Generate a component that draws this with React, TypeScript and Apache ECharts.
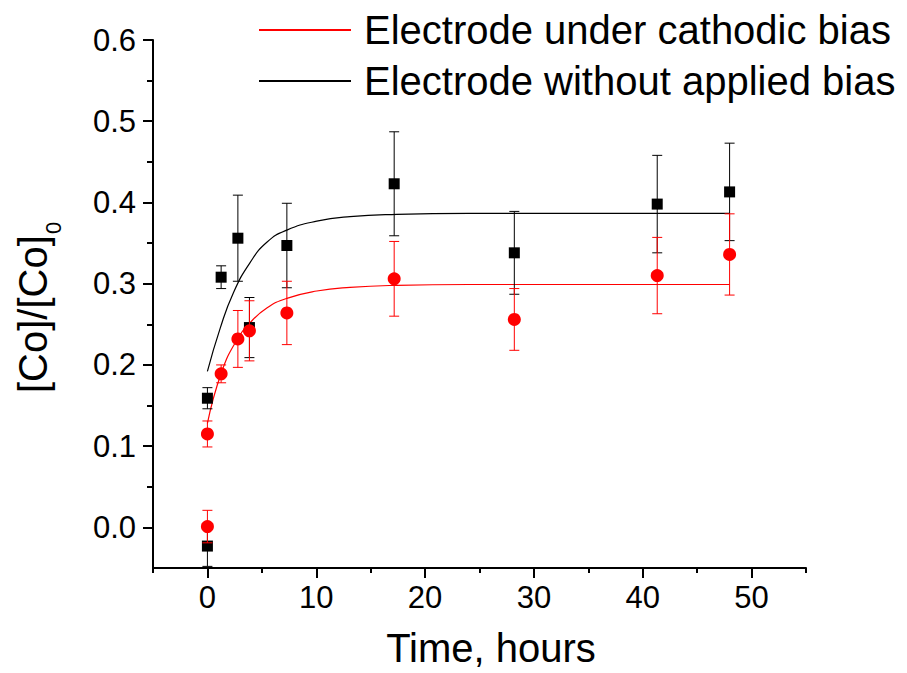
import React, { useEffect, useRef } from "react";
import * as echarts from "echarts";

// ---- data ----
const times = [0, 0, 1.26, 2.8, 3.86, 7.3, 17.16, 28.2, 41.33, 47.98];
const biasValues = [0.001, 0.115, 0.189, 0.232, 0.242, 0.264, 0.306, 0.256, 0.31, 0.336];
const biasErrors = [0.02, 0.016, 0.011, 0.035, 0.037, 0.039, 0.046, 0.038, 0.047, 0.05];
const noBiasValues = [-0.023, 0.159, 0.308, 0.356, 0.246, 0.347, 0.423, 0.338, 0.398, 0.413];
const noBiasErrors = [0.025, 0.013, 0.014, 0.053, 0.037, 0.052, 0.064, 0.051, 0.06, 0.06];

const biasFitX = [0, 1.3, 2.76, 3.92, 5.46, 7.3, 10.05, 13.1, 17.4, 24, 48];
const biasFitY = [0.128, 0.191, 0.232, 0.252, 0.27, 0.282, 0.291, 0.2955, 0.298, 0.299, 0.299];
const noBiasFitX = [0, 1.17, 2.39, 3.92, 5.46, 7.3, 10.05, 13.1, 17.4, 24, 48];
const noBiasFitY = [0.192, 0.245, 0.289, 0.326, 0.351, 0.366, 0.377, 0.3826, 0.3854, 0.3866, 0.3866];

const xTicks = [0, 10, 20, 30, 40, 50];
const xMinorTicks = [-5, 5, 15, 25, 35, 45, 55];
const yTicks = [0, 0.1, 0.2, 0.3, 0.4, 0.5, 0.6];
const yMinorTicks = [0.05, 0.15, 0.25, 0.35, 0.45, 0.55];

const seriesNames = ["Electrode under cathodic bias", "Electrode without applied bias"];
const xTitle = "Time, hours";
const yTitleMain = "[Co]/[Co]";
const yTitleSub = "0";

const FONT = "'Liberation Sans', Arial, sans-serif";

function errorBarSeries(name: string, vals: number[], errs: number[], color: string) {
  return {
    type: "custom",
    name,
    xAxisIndex: 0,
    yAxisIndex: 0,
    data: times.map((t, i) => [t, vals[i], errs[i]]),
    encode: { x: 0, y: 1 },
    silent: true,
    renderItem: (params: any, api: any) => {
      const x = api.value(0);
      const y = api.value(1);
      const e = api.value(2);
      const top = api.coord([x, y + e]);
      const bot = api.coord([x, y - e]);
      const hw = 5;
      const st = { stroke: color, lineWidth: 1 };
      return {
        type: "group",
        children: [
          { type: "line", shape: { x1: top[0], y1: top[1], x2: bot[0], y2: bot[1] }, style: st },
          { type: "line", shape: { x1: top[0] - hw, y1: top[1], x2: top[0] + hw, y2: top[1] }, style: st },
          { type: "line", shape: { x1: bot[0] - hw, y1: bot[1], x2: bot[0] + hw, y2: bot[1] }, style: st },
        ],
      };
    },
  };
}

export default function App() {
  const ref = useRef<HTMLDivElement>(null);
  useEffect(() => {
    if (!ref.current) return;
    const chart = echarts.init(ref.current, null, { renderer: "svg" });
    const axisLineStyle = { color: "#000", width: 2 };
    const option: any = {
      animation: false,
      backgroundColor: "#fff",
      textStyle: { fontFamily: FONT },
      grid: { left: 153, top: 40, width: 653, height: 531, containLabel: false },
      legend: {
        data: seriesNames,
        orient: "vertical",
        left: 259,
        top: 10,
        padding: 0,
        icon: "rect",
        itemWidth: 92,
        itemHeight: 2,
        itemGap: 11,
        textStyle: { fontFamily: FONT, fontSize: 40, color: "#000", lineHeight: 40, padding: [0, 0, 0, 8] },
      },
      xAxis: [
        {
          type: "value",
          min: -5,
          max: 55,
          position: "bottom",
          name: xTitle,
          nameLocation: "middle",
          nameGap: 60,
          nameTextStyle: { fontFamily: FONT, fontSize: 40, color: "#000", padding: [0, 0, 0, 23] },
          axisLine: { show: true, onZero: false, lineStyle: axisLineStyle },
          axisTick: { show: true, length: 10, lineStyle: axisLineStyle, customValues: xTicks },
          axisLabel: { fontFamily: FONT, fontSize: 31, color: "#000", margin: 14, customValues: xTicks },
          splitLine: { show: false },
        },
        {
          type: "value",
          min: -5,
          max: 55,
          position: "bottom",
          axisLine: { show: false, onZero: false },
          axisTick: { show: true, length: 5, lineStyle: axisLineStyle, customValues: xMinorTicks },
          axisLabel: { show: false },
          splitLine: { show: false },
        },
      ],
      yAxis: [
        {
          type: "value",
          min: -0.05,
          max: 0.6,
          position: "left",
          axisLine: { show: true, onZero: false, lineStyle: axisLineStyle },
          axisTick: { show: true, length: 10, lineStyle: axisLineStyle, customValues: yTicks },
          axisLabel: {
            fontFamily: FONT,
            fontSize: 31,
            color: "#000",
            margin: 17,
            customValues: yTicks,
            formatter: (v: number) => v.toFixed(1),
          },
          splitLine: { show: false },
        },
        {
          type: "value",
          min: -0.05,
          max: 0.6,
          position: "left",
          axisLine: { show: false, onZero: false },
          axisTick: { show: true, length: 6, lineStyle: axisLineStyle, customValues: yMinorTicks },
          axisLabel: { show: false },
          splitLine: { show: false },
        },
      ],
      graphic: [
        {
          type: "group",
          x: 33,
          y: 393,
          rotation: Math.PI / 2,
          children: [
            {
              type: "text",
              x: 0,
              y: 0,
              style: { text: yTitleMain, fontSize: 40, fontFamily: FONT, fill: "#000", align: "left", verticalAlign: "middle" },
            },
            {
              type: "text",
              x: 159,
              y: 20,
              style: { text: yTitleSub, fontSize: 22, fontFamily: FONT, fill: "#000", align: "left", verticalAlign: "middle" },
            },
          ],
        },
      ],
      series: [
        {
          type: "line",
          name: seriesNames[1],
          data: noBiasFitX.map((x, i) => [x, noBiasFitY[i]]),
          symbol: "none",
          smooth: 0.5,
          lineStyle: { color: "#000", width: 1.2 },
          itemStyle: { color: "#000" },
          z: 2,
        },
        {
          type: "line",
          name: seriesNames[0],
          data: biasFitX.map((x, i) => [x, biasFitY[i]]),
          symbol: "none",
          smooth: 0.5,
          lineStyle: { color: "#ff0000", width: 1.2 },
          itemStyle: { color: "#ff0000" },
          z: 2,
        },
        { ...errorBarSeries("noBiasErr", noBiasValues, noBiasErrors, "#000"), z: 3 },
        {
          type: "scatter",
          name: "noBiasData",
          data: times.map((t, i) => [t, noBiasValues[i]]),
          symbol: "rect",
          symbolSize: 11,
          itemStyle: { color: "#000", opacity: 1 },
          z: 4,
        },
        { ...errorBarSeries("biasErr", biasValues, biasErrors, "#ff0000"), z: 5 },
        {
          type: "scatter",
          name: "biasData",
          data: times.map((t, i) => [t, biasValues[i]]),
          symbol: "circle",
          symbolSize: 13,
          itemStyle: { color: "#ff0000", opacity: 1 },
          z: 6,
        },
      ],
    };
    chart.setOption(option);
    return () => chart.dispose();
  }, []);
  return (
    <div
      ref={ref}
      style={{ position: "fixed", left: 0, top: 0, width: 907, height: 673, background: "#fff" }}
    />
  );
}
